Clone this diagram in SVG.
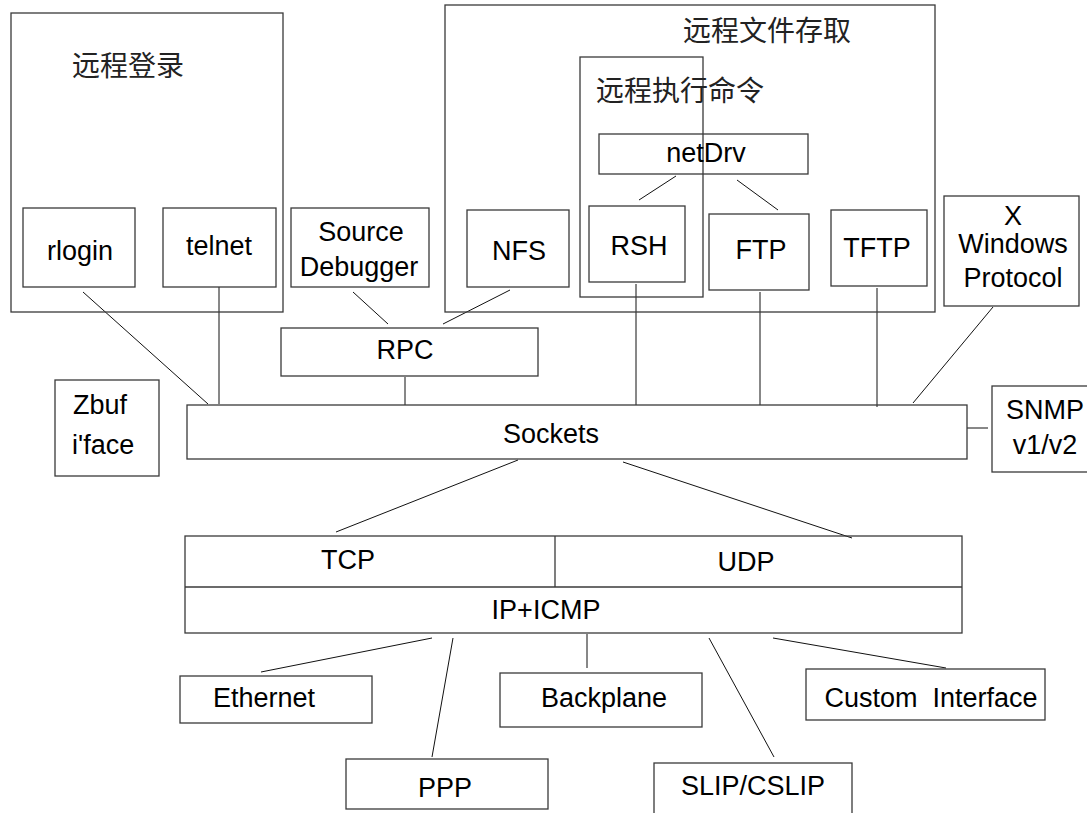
<svg xmlns="http://www.w3.org/2000/svg" width="1087" height="813" viewBox="0 0 1087 813">
  <style>
    .box { fill: none; stroke: #3a3a3a; stroke-width: 1.3; }
    .link { stroke: #111; stroke-width: 1; fill: none; }
    .t { font-family: "Liberation Sans", Arial, sans-serif; font-size: 27px; fill: #000; text-anchor: middle; }
    .ts { font-family: "Liberation Sans", Arial, sans-serif; font-size: 27px; fill: #000; }
    .cjk { font-family: "Liberation Serif", "Noto Sans CJK SC", serif; font-size: 28px; fill: #222; }
  </style>
  <rect width="1087" height="813" fill="#fff"/>

  <!-- connectors -->
  <g id="connectors">
    <line class="link" x1="83" y1="292" x2="208" y2="404"/>
    <line class="link" x1="219" y1="287" x2="219" y2="404"/>
    <line class="link" x1="353" y1="292" x2="388" y2="324"/>
    <line class="link" x1="510" y1="290" x2="443" y2="324"/>
    <line class="link" x1="405" y1="377" x2="405" y2="405"/>
    <line class="link" x1="676" y1="176" x2="639" y2="200"/>
    <line class="link" x1="737" y1="180" x2="778" y2="210"/>
    <line class="link" x1="636" y1="284" x2="636" y2="405"/>
    <line class="link" x1="760" y1="292" x2="760" y2="405"/>
    <line class="link" x1="877" y1="288" x2="877" y2="407"/>
    <line class="link" x1="993" y1="307" x2="913" y2="403"/>
    <line class="link" x1="967" y1="428" x2="988" y2="428"/>
    <line class="link" x1="518" y1="460" x2="336" y2="532"/>
    <line class="link" x1="623" y1="462" x2="852" y2="538"/>
    <line class="link" x1="432" y1="638" x2="261" y2="672"/>
    <line class="link" x1="453" y1="638" x2="432" y2="757"/>
    <line class="link" x1="587" y1="634" x2="587" y2="668"/>
    <line class="link" x1="709" y1="638" x2="774" y2="757"/>
    <line class="link" x1="773" y1="638" x2="946" y2="668"/>
  </g>

  <!-- remote login group -->
  <g id="remote-login">
    <rect class="box" x="11" y="13" width="272" height="299"/>
    <text class="cjk" x="72" y="76">远程登录</text>
  </g>
  <g id="rlogin">
    <rect class="box" x="23" y="208" width="112" height="79"/>
    <text class="t" x="80" y="260">rlogin</text>
  </g>
  <g id="telnet">
    <rect class="box" x="163" y="208" width="113" height="79"/>
    <text class="t" x="219" y="255">telnet</text>
  </g>
  <g id="source-debugger">
    <rect class="box" x="291" y="208" width="138" height="79"/>
    <text class="t" x="361" y="241">Source</text>
    <text class="t" x="359" y="276">Debugger</text>
  </g>

  <!-- remote file access group -->
  <g id="remote-file-access">
    <rect class="box" x="445" y="5" width="490" height="307"/>
    <text class="cjk" x="683" y="41">远程文件存取</text>
  </g>
  <g id="remote-exec">
    <rect class="box" x="580" y="57" width="123" height="240"/>
    <text class="cjk" x="596" y="101">远程执行命令</text>
  </g>
  <g id="netdrv">
    <rect class="box" x="599" y="134" width="209" height="40"/>
    <text class="t" x="706" y="162">netDrv</text>
  </g>
  <g id="nfs">
    <rect class="box" x="467" y="210" width="102" height="77"/>
    <text class="t" x="519" y="260">NFS</text>
  </g>
  <g id="rsh">
    <rect class="box" x="589" y="206" width="96" height="76"/>
    <text class="t" x="639" y="255">RSH</text>
  </g>
  <g id="ftp">
    <rect class="box" x="709" y="214" width="100" height="76"/>
    <text class="t" x="761" y="259">FTP</text>
  </g>
  <g id="tftp">
    <rect class="box" x="831" y="210" width="96" height="76"/>
    <text class="t" x="877" y="257">TFTP</text>
  </g>
  <g id="x-windows">
    <rect class="box" x="944" y="196" width="135" height="110"/>
    <text class="t" x="1013" y="225">X</text>
    <text class="t" x="1013" y="253">Windows</text>
    <text class="t" x="1013" y="287">Protocol</text>
  </g>

  <!-- middle layer -->
  <g id="rpc">
    <rect class="box" x="281" y="328" width="257" height="48"/>
    <text class="t" x="405" y="359">RPC</text>
  </g>
  <g id="zbuf">
    <rect class="box" x="55" y="380" width="104" height="96"/>
    <text class="ts" x="73" y="414">Zbuf</text>
    <text class="ts" x="72" y="454">i'face</text>
  </g>
  <g id="sockets">
    <rect class="box" x="187" y="405" width="780" height="54"/>
    <text class="t" x="551" y="443">Sockets</text>
  </g>
  <g id="snmp">
    <rect class="box" x="992" y="386" width="100" height="86"/>
    <text class="t" x="1045" y="419">SNMP</text>
    <text class="t" x="1045" y="454">v1/v2</text>
  </g>

  <!-- transport / network layer -->
  <g id="tcp-udp-ip">
    <rect class="box" x="185" y="536" width="777" height="97"/>
    <line class="box" x1="185" y1="587" x2="962" y2="587"/>
    <line class="box" x1="555" y1="536" x2="555" y2="587"/>
    <text class="t" x="348" y="569">TCP</text>
    <text class="t" x="746" y="571">UDP</text>
    <text class="t" x="546" y="619">IP+ICMP</text>
  </g>

  <!-- link layer interfaces -->
  <g id="ethernet">
    <rect class="box" x="180" y="676" width="192" height="47"/>
    <text class="t" x="264" y="707">Ethernet</text>
  </g>
  <g id="ppp">
    <rect class="box" x="346" y="759" width="202" height="50"/>
    <text class="t" x="445" y="797">PPP</text>
  </g>
  <g id="backplane">
    <rect class="box" x="500" y="673" width="202" height="54"/>
    <text class="t" x="604" y="707">Backplane</text>
  </g>
  <g id="slip">
    <rect class="box" x="654" y="763" width="198" height="60"/>
    <text class="t" x="753" y="795">SLIP/CSLIP</text>
  </g>
  <g id="custom-interface">
    <rect class="box" x="806" y="669" width="239" height="51"/>
    <text class="t" x="931" y="707" xml:space="preserve">Custom  Interface</text>
  </g>
</svg>
